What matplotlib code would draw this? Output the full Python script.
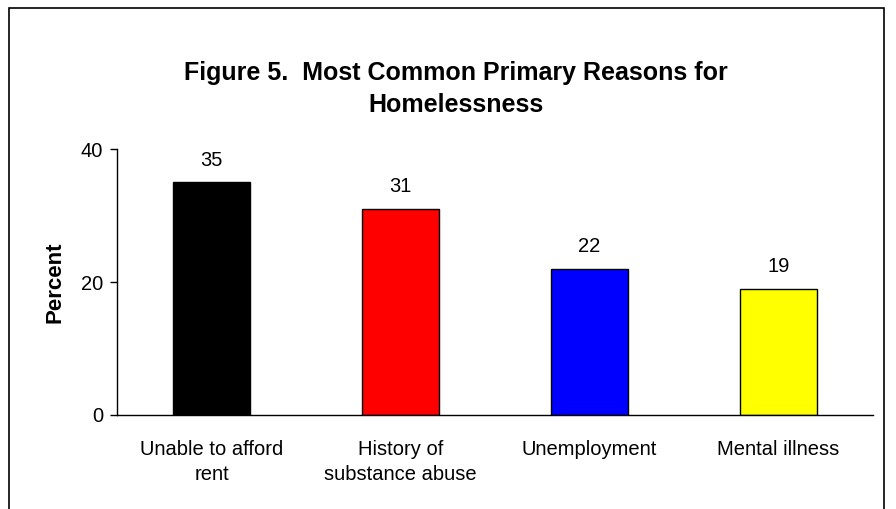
import matplotlib
matplotlib.use("Agg")
import matplotlib.pyplot as plt
from matplotlib.patches import Rectangle

# data
categories = ["Unable to afford\nrent", "History of\nsubstance abuse", "Unemployment", "Mental illness"]
percent = [35, 31, 22, 19]
bar_colors = ["#000000", "#ff0000", "#0000ff", "#ffff00"]
y_ticks = [0, 20, 40]

plt.rcParams['font.family'] = ['Liberation Sans', 'DejaVu Sans']

fig = plt.figure(figsize=(8.96, 5.09), dpi=100)
ax = fig.add_axes([117 / 896, 1 - 415 / 509, 756 / 896, 266 / 509])

x = range(len(categories))
ax.bar(x, percent, width=0.41, color=bar_colors, edgecolor="black", linewidth=1)

for xi, v in zip(x, percent):
    ax.annotate(str(v), (xi, v), xytext=(0, 9), textcoords="offset points",
                ha="center", va="bottom", fontsize=14.5)

ax.set_xlim(-0.5, 3.5)
ax.set_ylim(0, 40)
ax.set_yticks(y_ticks)
ax.set_xticks(list(x))
ax.set_xticklabels(categories, fontsize=14.5, linespacing=1.4)
ax.tick_params(axis="x", length=0, pad=18)
ax.tick_params(axis="y", length=5, width=1, labelsize=14.5, pad=5)
ax.spines["top"].set_visible(False)
ax.spines["right"].set_visible(False)
ax.spines["left"].set_linewidth(1)
ax.spines["bottom"].set_linewidth(1)
ax.set_ylabel("Percent", fontsize=16, fontweight="bold", labelpad=11)

fig.text(456 / 896, 1 - 89 / 509, "Figure 5.  Most Common Primary Reasons for\nHomelessness",
         ha="center", va="center", fontsize=18, fontweight="bold", linespacing=1.45)

# outer frame around the chart
fig.patches.append(Rectangle((9 / 896, -0.1), 875 / 896, 1.1 - 8 / 509,
                             transform=fig.transFigure, fill=False,
                             edgecolor="black", linewidth=1.2))

fig.savefig("out.png", dpi=100)
